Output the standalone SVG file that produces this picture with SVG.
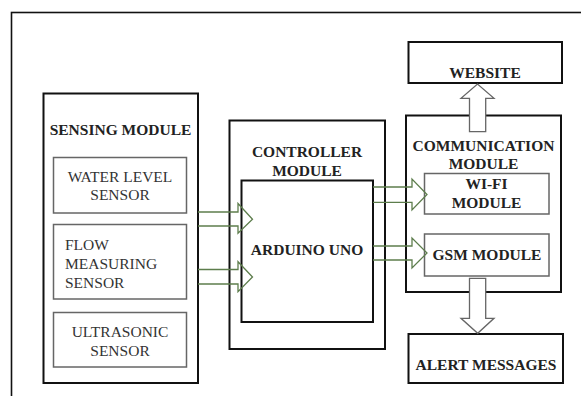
<svg xmlns="http://www.w3.org/2000/svg" width="581" height="396" viewBox="0 0 581 396">
  <style>
    .frame { fill: none; stroke: #111; stroke-width: 1.6; }
    .module { fill: #fff; stroke: #111; stroke-width: 2; }
    .inner { fill: #fff; stroke: #666; stroke-width: 1.5; }
    .head { font-family: "Liberation Serif", "Times New Roman", serif; font-weight: bold; font-size: 15.5px; fill: #222; text-anchor: middle; }
    .label { font-family: "Liberation Serif", "Times New Roman", serif; font-size: 15.5px; fill: #333; text-anchor: middle; }
    .label.left { text-anchor: start; }
    .flow-h { fill: none; stroke: #5d7d4c; stroke-width: 1.3; stroke-linejoin: miter; }
    .flow-v { fill: #fff; stroke: #666; stroke-width: 1.3; stroke-linejoin: miter; }
  </style>

  <!-- outer frame -->
  <rect class="frame" x="11.5" y="12.5" width="600" height="420"/>

  <!-- sensing module -->
  <g id="sensing-module">
    <rect class="module" x="43.5" y="93.5" width="154.5" height="289.5"/>
    <text class="head" x="120.5" y="135">SENSING MODULE</text>
  </g>
  <g id="water-level-sensor">
    <rect class="inner" x="53.5" y="157.5" width="133" height="55.5"/>
    <text class="label" x="120" y="182">WATER LEVEL</text>
    <text class="label" x="120" y="200">SENSOR</text>
  </g>
  <g id="flow-sensor">
    <rect class="inner" x="53.5" y="224.5" width="133" height="74.5"/>
    <text class="label left" x="65" y="250">FLOW</text>
    <text class="label left" x="65" y="269">MEASURING</text>
    <text class="label left" x="65" y="288">SENSOR</text>
  </g>
  <g id="ultrasonic-sensor">
    <rect class="inner" x="53.5" y="312.5" width="133" height="54.5"/>
    <text class="label" x="120" y="337">ULTRASONIC</text>
    <text class="label" x="120" y="356">SENSOR</text>
  </g>

  <!-- controller module -->
  <g id="controller-module">
    <rect class="module" x="229.5" y="120.5" width="155.5" height="228.5"/>
    <text class="head" x="307" y="157">CONTROLLER</text>
    <text class="head" x="307" y="176">MODULE</text>
  </g>
  <g id="arduino-uno">
    <rect class="module" x="241.5" y="180.5" width="131.5" height="141.5"/>
    <text class="head" x="307" y="255">ARDUINO UNO</text>
  </g>

  <!-- communication module -->
  <g id="communication-module">
    <rect class="module" x="406" y="115.5" width="155" height="176.5"/>
    <text class="head" x="483.5" y="151">COMMUNICATION</text>
    <text class="head" x="483.5" y="169">MODULE</text>
  </g>
  <g id="wifi-module">
    <rect class="inner" x="424.5" y="173.5" width="124.5" height="40.5"/>
    <text class="head" x="486.5" y="189">WI-FI</text>
    <text class="head" x="486.5" y="208">MODULE</text>
  </g>
  <g id="gsm-module">
    <rect class="inner" x="424.5" y="234" width="124.5" height="42"/>
    <text class="head" x="487" y="260">GSM MODULE</text>
  </g>

  <g id="website">
    <rect class="module" x="408.5" y="42" width="153.5" height="41"/>
    <text class="head" x="485" y="78">WEBSITE</text>
  </g>
  <g id="alert-messages">
    <rect class="module" x="408.5" y="334" width="154.5" height="49"/>
    <text class="head" x="486" y="370">ALERT MESSAGES</text>
  </g>

  <!-- block arrows -->
  <g id="connectors">
    <path class="flow-h" d="M198,212 H238 V203.5 L252.5,219.3 L238,233.3 V226 H198"/>
    <path class="flow-h" d="M198,269.5 H238 V261.7 L252.5,277 L238,291.7 V284 H198"/>
    <path class="flow-h" d="M373,187 H412 V179 L427,194.5 L412,210 V202.3 H373"/>
    <path class="flow-h" d="M373,246 H412 V238 L427,253 L412,268 V260 H373"/>
    <path class="flow-v" d="M469.5,131.7 V98.3 H461 L477.5,84 L494,98.3 H485.7 V131.7 Z"/>
    <path class="flow-v" d="M469.5,278.3 V318.3 H461 L477.7,333.3 L494,318.3 H485.7 V278.3 Z"/>
  </g>
</svg>
